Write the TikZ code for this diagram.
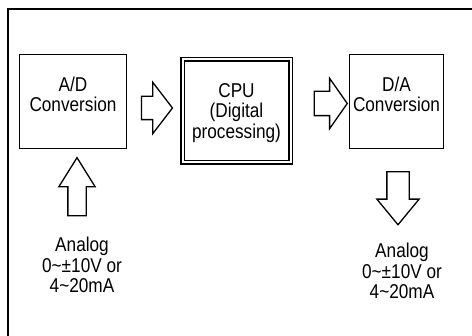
\documentclass[tikz,border=0pt]{standalone}
\usepackage{fontspec}
\setmainfont[FakeStretch=0.86]{Liberation Sans}
\usetikzlibrary{shapes.arrows}

\begin{document}
\begin{tikzpicture}[x=1pt, y=-1pt,
		box/.style={draw, line width=1.4pt, minimum width=#1, minimum height=94pt, inner sep=0pt},
		blockarrow/.style={single arrow, draw, line width=1.3pt, inner xsep=0pt, single arrow head indent=0pt},
		txt/.style={align=center, inner sep=0pt, font=\fontsize{20}{20.5}\selectfont}]
		\useasboundingbox (0,0) rectangle (472,336);
		\draw[line width=2pt] (8,340) -- (8,9) -- (476,9);
		\node[box=107pt] (ad) at (73,101.5) {};
		\node[box=94pt] (da) at (396.5,101.5) {};
		\node[draw, double, line width=1.4pt, double distance=2pt, minimum width=108pt, minimum height=103pt, inner sep=0pt] (cpu) at (236.5,111) {};
		\node[txt] (adtxt) at (73,94.5) {A/D\\Conversion};
		\node[txt] (cputxt) at (236.5,113) {CPU\\(Digital\\processing)};
		\node[txt] (datxt) at (396.5,94.5) {D/A\\Conversion};
		\node[txt] (ain) at (82,265) {Analog\\0\textasciitilde±10V or\\4\textasciitilde20mA};
		\node[txt] (aout) at (402,271) {Analog\\0\textasciitilde±10V or\\4\textasciitilde20mA};
		\node[blockarrow, inner ysep=11pt, minimum height=31pt, single arrow head extend=14pt, single arrow tip angle=105] (adcpu) at (152.5,108) {};
		\node[blockarrow, inner ysep=11.5pt, minimum height=33pt, single arrow head extend=13pt, single arrow tip angle=110] (cpuda) at (326.5,103.5) {};
		\node[blockarrow, rotate=90, inner ysep=8.5pt, minimum height=58pt, single arrow head extend=9pt, single arrow tip angle=64] (inarrow) at (77,194) {};
		\node[blockarrow, rotate=-90, inner ysep=10.5pt, minimum height=53pt, single arrow head extend=10pt, single arrow tip angle=79] (outarrow) at (398,191.5) {};
	\end{tikzpicture}
\end{document}
